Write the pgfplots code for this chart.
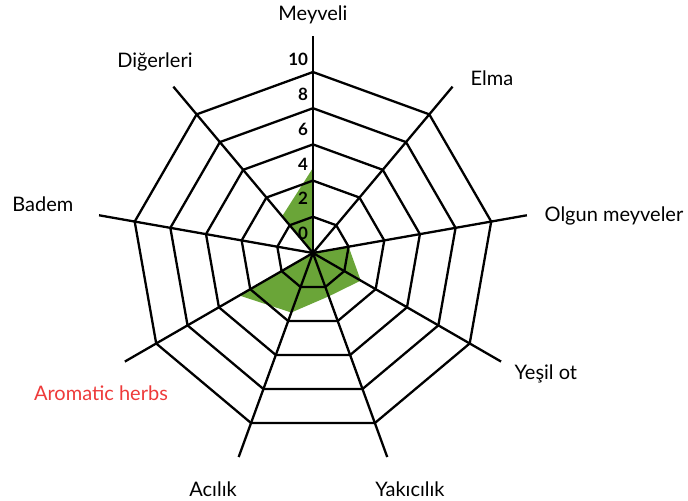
\documentclass[border=0pt]{standalone}
\usepackage{pgfplots}
\usepackage{fontspec}
\setmainfont{Lato}
\pgfplotsset{compat=1.18}
\definecolor{fillgreen}{RGB}{106,165,56}
\definecolor{labred}{RGB}{238,58,58}

% ring at value r: (angle, r) for the nine spokes, closed
\newcommand{\ring}[1]{\addplot[black, line width=1.15pt, line join=miter] coordinates {
 (90,#1) (50,#1) (10,#1) (-30,#1) (-70,#1) (-110,#1) (-150,#1) (170,#1) (130,#1) (90,#1)};}
\newcommand{\spoke}[1]{\addplot[black, line width=1.15pt] coordinates {(#1,0) (#1,12)};}

\begin{document}
\begin{tikzpicture}
\begin{axis}[
    width=344pt, height=250pt,
    scale only axis,
    hide axis,
    clip=false,
    xmin=-17.29, xmax=20.72,
    ymin=-13.65, ymax=13.98,
    data cs=polar,
]
% values: Meyveli, Elma, Olgun meyveler, Yesil ot, Yakicilik, Acilik, Aromatic herbs, Badem, Digerleri
\addplot[fill=fillgreen, draw=none] coordinates {
 (90,4.7) (50,0) (10,2.0) (-30,3.05) (-70,2.55) (-110,3.5) (-150,4.7) (170,0) (130,2.65) (90,4.7)};

\ring{2}\ring{4}\ring{6}\ring{8}\ring{10}
\spoke{90}\spoke{50}\spoke{10}\spoke{-30}\spoke{-70}\spoke{-110}\spoke{-150}\spoke{170}\spoke{130}

\path (rel axis cs:0,0) rectangle (rel axis cs:1,1);

\begin{scope}[font=\fontsize{8.5}{10}\selectfont\bfseries, anchor=east, inner sep=0pt]
\node at (axis cs:-0.25,10.72) {10};
\node at (axis cs:-0.25,8.79) {8};
\node at (axis cs:-0.25,6.85) {6};
\node at (axis cs:-0.25,4.92) {4};
\node at (axis cs:-0.25,3.0) {2};
\node at (axis cs:-0.25,1.1) {0};
\end{scope}

\begin{scope}[font=\fontsize{10}{12}\selectfont, inner sep=0pt]
\node at (axis cs:0,13.15) {Meyveli};
\node at (axis cs:9.89,9.67) {Elma};
\node at (axis cs:16.63,2.04) {Olgun meyveler};
\node at (axis cs:12.87,-6.69) {Yeşil ot};
\node at (axis cs:5.36,-13.04) {Yakıcılık};
\node at (axis cs:-5.52,-13.04) {Acılık};
\node[text=labred] at (axis cs:-11.71,-7.73) {Aromatic herbs};
\node at (axis cs:-14.92,2.71) {Badem};
\node at (axis cs:-8.73,10.55) {Diğerleri};
\end{scope}
\end{axis}
\end{tikzpicture}
\end{document}
